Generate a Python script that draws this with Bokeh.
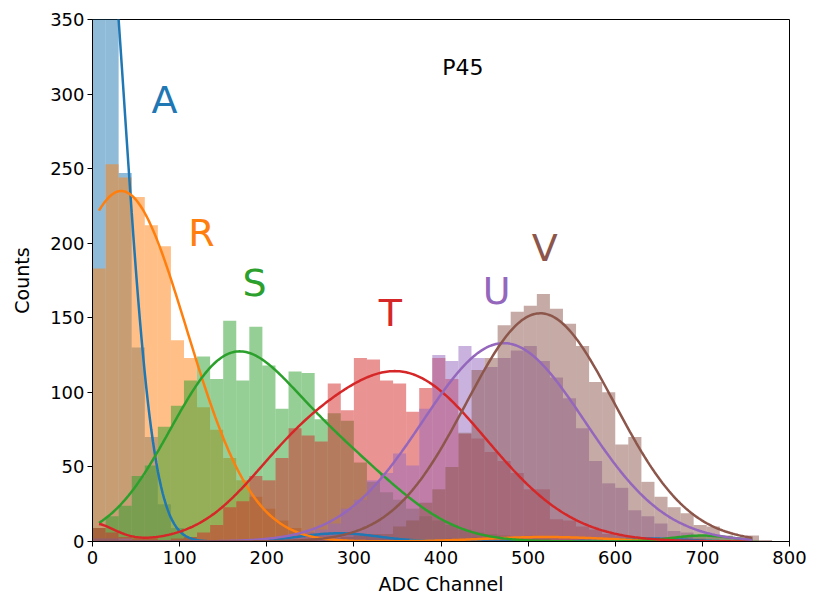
import numpy as np
from bokeh.plotting import figure
from bokeh.models import Range1d, FixedTicker, ColumnDataSource
from bokeh.core.properties import value
from bokeh.embed import file_html
from bokeh.resources import INLINE

# ---- data ----
bin_edges = list(range(0, 781, 15))          # 52 bins of 15 ADC channels

counts_A = [470,400,247,130,70,25,9,3,1,1, 0,0,1,1,2,2,4,5,6,6, 5,4,3,2,1,1,0,0,0,0,
            0,0,0,0,0,0,0,0,1,1, 2,2,2,2,1,1,0,0,0,0, 0,0]
counts_R = [183,253,244,231,212,198,135,123,90,75, 56,41,30,22,14,9,6,4,2,1, 1,0,0,0,1,1,1,2,2,3,
            3,4,3,4,3,3,2,2,1,1, 0,0,0,0,0,0,0,0,0,0, 0,0]
counts_S = [9,17,24,44,51,77,91,108,124,109, 148,108,144,118,89,114,113,82,86,81, 53,40,33,28,22,17,14,11,8,6,
            5,4,3,2,2,1,1,1,1,0, 1,1,1,2,2,3,4,4,3,2, 1,0]
counts_T = [9,6,3,2,2,1,2,3,6,11, 23,27,44,41,56,76,71,67,106,88, 123,122,108,106,87,103,123,109,72,69,
            60,54,46,35,35,15,14,10,8,5, 4,3,2,1,1,1,1,1,1,0, 0,0]
counts_U = [2,2,2,1,1,1,1,1,1,0, 0,0,1,1,2,4,6,8,12,22, 28,41,46,59,51,89,125,121,131,123,
            117,123,128,131,121,110,96,76,54,39, 36,21,17,12,7,6,2,1,0,0, 0,0]
counts_V = [2,2,1,1,1,0,0,0,0,0, 0,0,0,0,1,1,1,2,2,3, 4,5,5,10,14,26,35,50,73,115,
            123,145,154,158,166,156,146,131,107,100, 65,70,40,30,23,19,11,10,4,3, 4,1]

# Gaussian-fit parameters (amplitude, mean, sigma per component)
fit_A = {"amp": [477, 5.5, 2], "mu": [4, 283, 640], "sigma": [33, 45, 40]}
fit_R = {"amp": [235, 3], "mu": [33, 520], "sigma": [75, 70]}
fit_S = {"amp": [114, 50, 4], "mu": [155, 283, 700], "sigma": [70, 75, 35]}
fit_T = {"amp": [113, 20, 12], "mu": [352, 220, 0], "sigma": [100, 55, 25]}
fit_U = {"amp": [133], "mu": [472], "sigma": [93]}
fit_V = {"amp": [153], "mu": [514], "sigma": [85]}

series_names = ["A", "R", "S", "T", "U", "V"]
series_colors = ["#1f77b4", "#ff7f0e", "#2ca02c", "#d62728", "#9467bd", "#8c564b"]
series_counts = [counts_A, counts_R, counts_S, counts_T, counts_U, counts_V]
series_fits = [fit_A, fit_R, fit_S, fit_T, fit_U, fit_V]
label_x = [82.6, 125, 186, 342, 464, 519]
label_y = [296, 207, 173, 153.5, 168, 197]

title_text = "P45"
title_x, title_y = 425, 318
x_ticks = [0, 100, 200, 300, 400, 500, 600, 700, 800]
y_ticks = [0, 50, 100, 150, 200, 250, 300, 350]

# ---- figure ----
p = figure(width=814, height=607, output_backend="svg", toolbar_location=None,
           x_range=Range1d(0, 800), y_range=Range1d(0, 350),
           min_border_left=92, min_border_right=25, min_border_top=19, min_border_bottom=66)
p.background_fill_color = "white"
p.border_fill_color = "white"
p.outline_line_color = "black"
p.outline_line_width = 1
p.outline_line_alpha = 1
p.xgrid.visible = False
p.ygrid.visible = False

for ax in (p.xaxis[0], p.yaxis[0]):
    ax.axis_line_color = "black"
    ax.major_tick_line_color = "black"
    ax.major_tick_out = 5
    ax.major_tick_in = 0
    ax.minor_tick_line_color = None
    ax.major_label_text_font = "DejaVu Sans"
    ax.major_label_text_font_size = "18px"
    ax.major_label_text_color = "black"
    ax.axis_label_text_font = "DejaVu Sans"
    ax.axis_label_text_font_size = "19px"
    ax.axis_label_text_font_style = "normal"
    ax.axis_label_text_color = "black"

p.xaxis.ticker = FixedTicker(ticks=x_ticks)
p.yaxis.ticker = FixedTicker(ticks=y_ticks)
p.xaxis.axis_label = "ADC Channel"
p.yaxis.axis_label = "Counts"
p.xaxis.major_label_standoff = 4
p.yaxis.major_label_standoff = 3
p.xaxis.axis_label_standoff = 6
p.yaxis.axis_label_standoff = 14

left_edges = bin_edges[:-1]
right_edges = bin_edges[1:]

for counts, col in zip(series_counts, series_colors):
    src = ColumnDataSource(dict(left=left_edges, right=right_edges, top=counts,
                                bottom=[0] * len(counts)))
    p.quad(left="left", right="right", top="top", bottom="bottom", source=src,
           fill_color=col, fill_alpha=0.5, line_color=None)

x_fit = np.linspace(7.5, 757.5, 401)
for fit, col in zip(series_fits, series_colors):
    y_fit = np.zeros_like(x_fit)
    for a, m, s in zip(fit["amp"], fit["mu"], fit["sigma"]):
        y_fit += a * np.exp(-(x_fit - m) ** 2 / (2 * s ** 2))
    p.line(x_fit, y_fit, line_color=col, line_width=2.5)

for name, col, lx, ly in zip(series_names, series_colors, label_x, label_y):
    p.text(x=[lx], y=[ly], text=[name], text_color=col,
           text_font=value("DejaVu Sans"), text_font_size=value("38px"),
           text_align="center", text_baseline="middle")

p.text(x=[title_x], y=[title_y], text=[title_text], text_color="black",
       text_font=value("DejaVu Sans"), text_font_size=value("22px"),
       text_align="center", text_baseline="middle")

open("out.html", "w").write(file_html(p, INLINE))
